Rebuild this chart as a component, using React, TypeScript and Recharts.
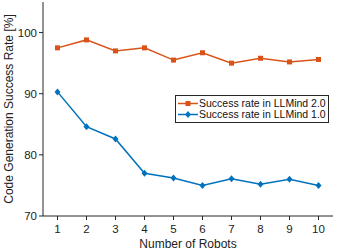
import { CartesianGrid, Legend, Line, LineChart, XAxis, YAxis } from 'recharts';

const robots = [1, 2, 3, 4, 5, 6, 7, 8, 9, 10];
const llmind2 = [97.5, 98.8, 97.0, 97.5, 95.5, 96.7, 95.0, 95.8, 95.2, 95.6];
const llmind1 = [90.3, 84.6, 82.6, 77.0, 76.2, 75.0, 76.1, 75.2, 76.0, 75.0];
const yTicks = [70, 80, 90, 100];

const ORANGE = '#D95319';
const BLUE = '#0072BD';
const AXIS = '#262626';
const FONT = '"Liberation Sans", Arial, sans-serif';

const data = robots.map((n, i) => ({ robots: n, v2: llmind2[i], v1: llmind1[i] }));

function SquareDot(props: any) {
  const { cx, cy, index } = props;
  return <rect key={`sq-${index}`} x={cx - 2.5} y={cy - 2.5} width={5} height={5} fill={ORANGE} />;
}

function DiamondDot(props: any) {
  const { cx, cy, index } = props;
  return (
    <polygon
      key={`dm-${index}`}
      points={`${cx},${cy - 3.5} ${cx + 3},${cy} ${cx},${cy + 3.5} ${cx - 3},${cy}`}
      fill={BLUE}
    />
  );
}

function LegendBox() {
  const rows = [
    { label: 'Success rate in LLMind 2.0', color: ORANGE, shape: 'square' },
    { label: 'Success rate in LLMind 1.0', color: BLUE, shape: 'diamond' }
  ];
  return (
    <div
      style={{
        border: `1px solid ${AXIS}`,
        background: '#fff',
        padding: '2px 2px 2px 2px',
        fontFamily: FONT,
        fontSize: 10.5,
        color: '#111',
        lineHeight: '11px'
      }}
    >
      {rows.map((r) => (
        <div key={r.label} style={{ display: 'flex', alignItems: 'center', height: 11 }}>
          <svg width={20} height={11} style={{ marginRight: 1 }}>
            <line x1={0} x2={20} y1={5.5} y2={5.5} stroke={r.color} strokeWidth={1.5} />
            {r.shape === 'square' ? (
              <rect x={7.5} y={3} width={5} height={5} fill={r.color} />
            ) : (
              <polygon points="10,2 13,5.5 10,9 7,5.5" fill={r.color} />
            )}
          </svg>
          <span style={{ whiteSpace: 'nowrap' }}>{r.label}</span>
        </div>
      ))}
    </div>
  );
}

export default function App() {
  return (
    <div style={{ position: 'absolute', left: 0, top: 0, width: 337, height: 252, background: '#fff' }}>
      <LineChart width={337} height={252} data={data} margin={{ top: 2, right: 4, left: 0, bottom: 0 }}>
        <CartesianGrid stroke="none" />
        <XAxis
          dataKey="robots"
          type="number"
          domain={[0.5, 10.5]}
          ticks={robots}
          height={36}
          tickSize={4}
          tickMargin={5}
          stroke={AXIS}
          tick={{ fill: '#222', fontSize: 11.5, fontFamily: FONT }}
          label={{
            content: (props: any) => {
              const vb = props.viewBox || { x: 43, y: 216, width: 290, height: 36 };
              return (
                <text
                  x={vb.x + vb.width / 2}
                  y={vb.y + vb.height - 4}
                  textAnchor="middle"
                  fill="#222"
                  fontSize={12}
                  fontFamily={FONT}
                >
                  Number of Robots
                </text>
              );
            }
          }}
        />
        <XAxis
          xAxisId="top"
          orientation="top"
          type="number"
          domain={[0.5, 10.5]}
          height={0}
          tick={false}
          tickLine={false}
          stroke={AXIS}
        />
        <YAxis
          type="number"
          domain={[70, 105]}
          ticks={yTicks}
          width={43}
          tickSize={4}
          tickMargin={2}
          stroke={AXIS}
          tick={{ fill: '#222', fontSize: 11.5, fontFamily: FONT }}
          label={{
            content: (props: any) => {
              const vb = props.viewBox || { x: 0, y: 2, width: 43, height: 214 };
              const cy = vb.y + vb.height / 2;
              return (
                <text
                  transform={`translate(9, ${cy}) rotate(-90)`}
                  textAnchor="middle"
                  dominantBaseline="central"
                  fill="#222"
                  fontSize={12}
                  fontFamily={FONT}
                >
                  Code Generation Success Rate [%]
                </text>
              );
            }
          }}
        />
        <YAxis
          yAxisId="right"
          orientation="right"
          type="number"
          domain={[70, 105]}
          width={0}
          tick={false}
          tickLine={false}
          stroke={AXIS}
        />
        <Legend
          layout="horizontal"
          verticalAlign="middle"
          align="center"
          content={() => <LegendBox />}
          wrapperStyle={{ left: 175, top: 95, width: 'auto' }}
        />
        <Line
          dataKey="v2"
          stroke={ORANGE}
          strokeWidth={1.5}
          dot={SquareDot}
          activeDot={false}
          isAnimationActive={false}
        />
        <Line
          dataKey="v1"
          stroke={BLUE}
          strokeWidth={1.5}
          dot={DiamondDot}
          activeDot={false}
          isAnimationActive={false}
        />
      </LineChart>
    </div>
  );
}
